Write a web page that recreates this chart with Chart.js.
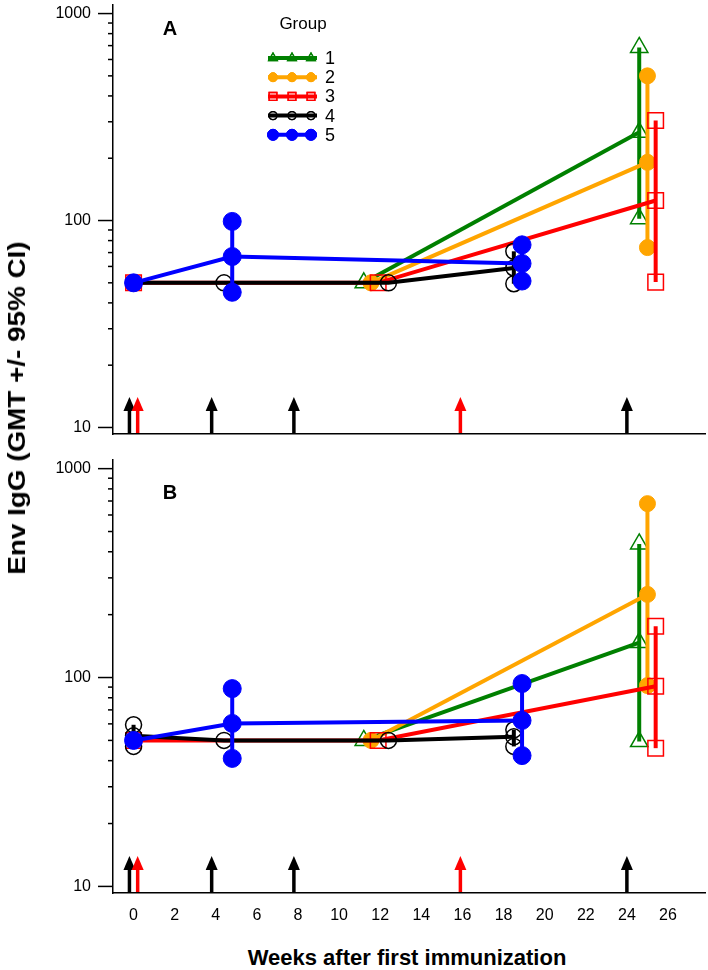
<!DOCTYPE html>
<html><head><meta charset="utf-8">
<script src="https://cdn.jsdelivr.net/npm/chart.js@4/dist/chart.umd.min.js"></script>
<style>
html,body{margin:0;padding:0;background:#fff;}
body{width:708px;height:970px;position:relative;overflow:hidden;font-family:"Liberation Sans",Arial,sans-serif;}
canvas{position:absolute;left:0;}
#ca{top:0;}
#cb{top:455px;}
.ytitle{position:absolute;left:17px;top:408px;transform:translate(-50%,-50%) rotate(-90deg) scaleX(1.16);font-weight:bold;font-size:24px;white-space:nowrap;color:#000;}
.xtitle{position:absolute;left:407px;top:958px;transform:translate(-50%,-50%);font-weight:bold;font-size:22px;white-space:nowrap;color:#000;}
</style></head>
<body>
<canvas id="ca" width="708" height="440"></canvas>
<canvas id="cb" width="708" height="480"></canvas>
<div class="ytitle">Env IgG (GMT +/- 95% CI)</div>
<div class="xtitle">Weeks after first immunization</div>
<script>
// ---------- data ----------
const groupNames = ['1', '2', '3', '4', '5'];
const xTickLabels = [0, 2, 4, 6, 8, 10, 12, 14, 16, 18, 20, 22, 24, 26];
const yMajorTicks = [10, 100, 1000];
const yMinorTicks = [20, 30, 40, 50, 60, 70, 80, 90, 200, 300, 400, 500, 600, 700, 800, 900];

// immunization arrows (weeks)
const arrowsBlack = [-0.2, 3.8, 7.8, 24];
const arrowsRed = [0.2, 15.9];

// sampling weeks per group (slightly dodged as in the figure)
const g1Weeks = [11.2, 24.6];
const g2Weeks = [11.55, 25.0];
const g3Weeks = [0, 11.9, 25.4];
const g4Weeks = [0, 4.4, 12.4, 18.5];
const g5Weeks = [0, 4.8, 18.9];

// Panel A: GMT, lower and upper 95% CI
const a1Gmt = [50, 267];           const a1Lo = [null, 102];  const a1Hi = [null, 686];
const a2Gmt = [50, 191];           const a2Lo = [null, 74];   const a2Hi = [null, 500];
const a3Gmt = [50, 50, 125];       const a3Lo = [null, null, 50.4]; const a3Hi = [null, null, 304];
const a4Gmt = [50, 50, 50, 59];    const a4Lo = [null, null, null, 49.5]; const a4Hi = [null, null, null, 71];
const a5Gmt = [50, 67, 62];        const a5Lo = [null, 45, 51]; const a5Hi = [null, 99, 76.3];

// Panel B
const b1Gmt = [50, 147];           const b1Lo = [null, 49.4]; const b1Hi = [null, 436];
const b2Gmt = [50, 250];           const b2Lo = [null, 91.5]; const b2Hi = [null, 680];
const b3Gmt = [50, 50, 90.8];      const b3Lo = [null, null, 45.9]; const b3Hi = [null, null, 176];
const b4Gmt = [52.6, 50, 50, 52];  const b4Lo = [46.8, null, null, 46.8]; const b4Hi = [59.4, null, null, 56.2];
const b5Gmt = [50, 60.3, 62.3];    const b5Lo = [null, 41, 42.3]; const b5Hi = [null, 88.5, 93.6];

// ---------- styles ----------
const styles = [
  {color: '#008000', pointStyle: 'triangle', r: 10, fill: false, bw: 1.5, lr: 5},
  {color: '#FFA500', pointStyle: 'circle',   r: 8,  fill: true,  bw: 1,   lr: 4.5},
  {color: '#FF0000', pointStyle: 'rect',     r: 11, fill: false, bw: 1.5, lr: 5.5},
  {color: '#000000', pointStyle: 'circle',   r: 8,  fill: false, bw: 1.5, lr: 4},
  {color: '#0000FF', pointStyle: 'circle',   r: 9,  fill: true,  bw: 1,   lr: 5.5}
];

const weeksAll = [g1Weeks, g2Weeks, g3Weeks, g4Weeks, g5Weeks];
const FONT = '"Liberation Sans", Arial, sans-serif';

function makeDatasets(gmts, los, his) {
  const ds = [];
  styles.forEach((s, g) => {
    const common = {
      type: 'line',
      pointStyle: s.pointStyle, pointRadius: s.r, pointBorderWidth: s.bw,
      pointBackgroundColor: s.fill ? s.color : 'rgba(0,0,0,0)',
      pointBorderColor: s.color,
      borderColor: s.color, borderWidth: 4, fill: false, tension: 0,
      clip: false
    };
    ds.push(Object.assign({}, common, {
      label: groupNames[g],
      order: (5 - g) * 10,
      data: weeksAll[g].map((w, i) => ({x: w, y: gmts[g][i]}))
    }));
    weeksAll[g].forEach((w, i) => {
      if (los[g][i] != null) {
        ds.push(Object.assign({}, common, {
          label: groupNames[g] + ' CI',
          order: (5 - g) * 10 + 1,
          data: [{x: w, y: los[g][i]}, {x: w, y: his[g][i]}]
        }));
      }
    });
  });
  return ds;
}

// ---------- plugins ----------
const yTickMarks = {
  id: 'yTickMarks',
  afterDraw(chart) {
    const ctx = chart.ctx, ys = chart.scales.y, left = chart.chartArea.left;
    ctx.save();
    ctx.strokeStyle = '#000';
    ctx.lineWidth = 1.5;
    yMajorTicks.concat(yMinorTicks).forEach(v => {
      const py = ys.getPixelForValue(v);
      const len = yMajorTicks.includes(v) ? 15 : 5;
      ctx.beginPath(); ctx.moveTo(left - len, py); ctx.lineTo(left, py); ctx.stroke();
    });
    ctx.restore();
  }
};

const arrowPlugin = {
  id: 'immArrows',
  afterDraw(chart) {
    const ctx = chart.ctx, xs = chart.scales.x, y0 = chart.chartArea.bottom - 1;
    function arrow(w, color) {
      const px = xs.getPixelForValue(w);
      ctx.save();
      ctx.strokeStyle = color; ctx.fillStyle = color; ctx.lineWidth = 3.5;
      ctx.beginPath(); ctx.moveTo(px, y0); ctx.lineTo(px, y0 - 24); ctx.stroke();
      ctx.beginPath();
      ctx.moveTo(px, y0 - 36); ctx.lineTo(px - 6, y0 - 22); ctx.lineTo(px + 6, y0 - 22); ctx.closePath();
      ctx.fill();
      ctx.restore();
    }
    arrowsBlack.forEach(w => arrow(w, '#000'));
    arrowsRed.forEach(w => arrow(w, '#FF0000'));
  }
};

const panelLabel = {
  id: 'panelLabel',
  afterDraw(chart, args, opts) {
    const ctx = chart.ctx;
    ctx.save();
    ctx.fillStyle = '#000';
    ctx.font = 'bold 20px ' + FONT;
    ctx.textAlign = 'center'; ctx.textBaseline = 'middle';
    ctx.fillText(opts.text, opts.x, opts.y);
    ctx.restore();
  }
};

const groupLegend = {
  id: 'groupLegend',
  afterDraw(chart, args, opts) {
    if (!opts.show) return;
    const ctx = chart.ctx;
    ctx.save();
    ctx.fillStyle = '#000';
    ctx.font = '17px ' + FONT;
    ctx.textAlign = 'center'; ctx.textBaseline = 'middle';
    ctx.fillText('Group', 303, 24);
    styles.forEach((s, i) => {
      const y = 58 + i * 19.2;
      ctx.strokeStyle = s.color; ctx.lineWidth = 4;
      ctx.beginPath(); ctx.moveTo(268, y); ctx.lineTo(317, y); ctx.stroke();
      [273, 292, 311].forEach(px => {
        ctx.fillStyle = s.fill ? s.color : 'rgba(0,0,0,0)';
        ctx.strokeStyle = s.color; ctx.lineWidth = s.fill ? 1 : 1.3;
        Chart.helpers.drawPoint(ctx, {pointStyle: s.pointStyle, radius: s.lr, rotation: 0, borderWidth: ctx.lineWidth}, px, y);
        if (s.fill) ctx.fill();
        ctx.stroke();
      });
      ctx.fillStyle = '#000';
      ctx.font = '18px ' + FONT;
      ctx.textAlign = 'left';
      ctx.fillText(groupNames[i], 325, y + 1);
    });
    ctx.restore();
  }
};

function makeChart(id, datasets, cfg) {
  return new Chart(document.getElementById(id), {
    type: 'line',
    data: {datasets},
    options: {
      responsive: false, animation: false, events: [],
      layout: {autoPadding: false, padding: {top: 5, right: 3, left: 0, bottom: 0}},
      plugins: {
        legend: {display: false}, tooltip: {enabled: false},
        panelLabel: {text: cfg.label, x: 170, y: cfg.labelY},
        groupLegend: {show: cfg.legend}
      },
      scales: {
        x: {
          type: 'linear', min: -1, max: 27.8,
          afterBuildTicks: s => { s.ticks = xTickLabels.map(v => ({value: v})); },
          grid: {display: false, drawTicks: false},
          border: {display: true, color: '#000', width: 1.5},
          ticks: {display: cfg.showX, autoSkip: false, maxRotation: 0, padding: 13, color: '#000',
                  font: {family: FONT, size: 16}},
          afterFit: s => { s.height = cfg.xh; s.paddingLeft = 0; s.paddingRight = 0; }
        },
        y: {
          type: 'logarithmic', min: 9.3, max: 1100,
          afterBuildTicks: s => { s.ticks = yMajorTicks.concat(yMinorTicks).sort((a, b) => a - b).map(v => ({value: v})); },
          grid: {display: true, drawOnChartArea: false, drawTicks: true, tickLength: 12, tickColor: 'rgba(0,0,0,0)'},
          border: {display: true, color: '#000', width: 1.5},
          ticks: {autoSkip: false, padding: 10, color: '#000',
                  font: {family: FONT, size: 16},
                  callback: v => yMajorTicks.includes(v) ? String(v) : ''},
          afterFit: s => { s.width = 113; s.paddingTop = 0; s.paddingBottom = 0; }
        }
      }
    },
    plugins: [yTickMarks, arrowPlugin, panelLabel, groupLegend]
  });
}

makeChart('ca',
  makeDatasets([a1Gmt, a2Gmt, a3Gmt, a4Gmt, a5Gmt], [a1Lo, a2Lo, a3Lo, a4Lo, a5Lo], [a1Hi, a2Hi, a3Hi, a4Hi, a5Hi]),
  {label: 'A', labelY: 29, legend: true, showX: false, xh: 6});
makeChart('cb',
  makeDatasets([b1Gmt, b2Gmt, b3Gmt, b4Gmt, b5Gmt], [b1Lo, b2Lo, b3Lo, b4Lo, b5Lo], [b1Hi, b2Hi, b3Hi, b4Hi, b5Hi]),
  {label: 'B', labelY: 38, legend: false, showX: true, xh: 42});
</script>
</body></html>
